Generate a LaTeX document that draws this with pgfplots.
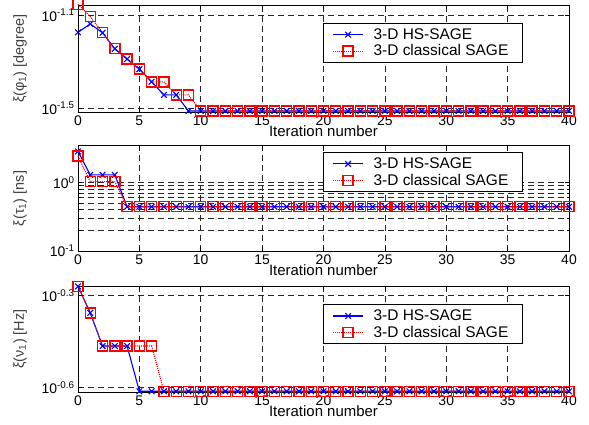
\documentclass[border=0pt]{standalone}
\usepackage{fontspec}
\setmainfont{Liberation Sans}
\usepackage{pgfplots}
\usepackage{pgfplotstable}
\pgfplotsset{compat=1.18}

% x, HS-SAGE, classical SAGE
\pgfplotstableread{
x hs cl
0 0.0671 0.0885
1 0.0729 0.0783
2 0.0668 0.0668
3 0.0570 0.0570
4 0.0515 0.0515
5 0.0466 0.0466
6 0.0411 0.0411
7 0.0361 0.0411
8 0.0361 0.0361
9 0.0308 0.0361
10 0.0308 0.0308
11 0.0308 0.0308
12 0.0308 0.0308
13 0.0308 0.0308
14 0.0308 0.0308
15 0.0308 0.0308
16 0.0308 0.0308
17 0.0308 0.0308
18 0.0308 0.0308
19 0.0308 0.0308
20 0.0308 0.0308
21 0.0308 0.0308
22 0.0308 0.0308
23 0.0308 0.0308
24 0.0308 0.0308
25 0.0308 0.0308
26 0.0308 0.0308
27 0.0308 0.0308
28 0.0308 0.0308
29 0.0308 0.0308
30 0.0308 0.0308
31 0.0308 0.0308
32 0.0308 0.0308
33 0.0308 0.0308
34 0.0308 0.0308
35 0.0308 0.0308
36 0.0308 0.0308
37 0.0308 0.0308
38 0.0308 0.0308
39 0.0308 0.0308
40 0.0308 0.0308
}\phidata

\pgfplotstableread{
x hs cl
0 2.81 2.40
1 1.28 1.02
2 1.28 1.02
3 1.28 1.02
4 0.44 0.44
5 0.44 0.44
6 0.44 0.44
7 0.44 0.44
8 0.44 0.44
9 0.44 0.44
10 0.44 0.44
11 0.44 0.44
12 0.44 0.44
13 0.44 0.44
14 0.44 0.44
15 0.44 0.44
16 0.44 0.44
17 0.44 0.44
18 0.44 0.44
19 0.44 0.44
20 0.44 0.44
21 0.44 0.44
22 0.44 0.44
23 0.44 0.44
24 0.44 0.44
25 0.44 0.44
26 0.44 0.44
27 0.44 0.44
28 0.44 0.44
29 0.44 0.44
30 0.44 0.44
31 0.44 0.44
32 0.44 0.44
33 0.44 0.44
34 0.44 0.44
35 0.44 0.44
36 0.44 0.44
37 0.44 0.44
38 0.44 0.44
39 0.44 0.44
40 0.44 0.44
}\taudata

\pgfplotstableread{
x hs cl
0 0.537 0.537
1 0.440 0.440
2 0.343 0.343
3 0.343 0.343
4 0.343 0.343
5 0.244 0.343
6 0.244 0.343
7 0.244 0.244
8 0.244 0.244
9 0.244 0.244
10 0.244 0.244
11 0.244 0.244
12 0.244 0.244
13 0.244 0.244
14 0.244 0.244
15 0.244 0.244
16 0.244 0.244
17 0.244 0.244
18 0.244 0.244
19 0.244 0.244
20 0.244 0.244
21 0.244 0.244
22 0.244 0.244
23 0.244 0.244
24 0.244 0.244
25 0.244 0.244
26 0.244 0.244
27 0.244 0.244
28 0.244 0.244
29 0.244 0.244
30 0.244 0.244
31 0.244 0.244
32 0.244 0.244
33 0.244 0.244
34 0.244 0.244
35 0.244 0.244
36 0.244 0.244
37 0.244 0.244
38 0.244 0.244
39 0.244 0.244
40 0.244 0.244
}\nudata

\pgfplotsset{
  every axis/.append style={
    scale only axis,
    width=491bp,
    xmin=0, xmax=40,
    xtick={0,5,...,40},
    clip=false,
    /pgf/number format/assume math mode=true,
    tick label style={font=\fontsize{14}{16}\selectfont},
    tick align=inside,
    major tick length=4bp,
    minor tick length=2.5bp,
    axis line style={line width=1bp},
    every tick/.style={black, line width=0.6bp},
    grid style={black!85, line width=0.6bp, dash pattern=on 6bp off 4bp},
    minor grid style={black!85, line width=0.6bp, dash pattern=on 6bp off 4bp},
    xmajorgrids, ymajorgrids,
    xlabel={Iteration number},
    xlabel style={at={(axis description cs:0.5,0)}, anchor=center, yshift=-19bp,
      font=\fontsize{15}{17}\selectfont},
    ylabel style={at={(axis description cs:-0.118,0.5)}, anchor=center,
      font=\fontsize{14.5}{16}\selectfont, text=black!75},
    legend cell align=left,
    legend style={anchor=north west, font=\fontsize{15.5}{17}\selectfont,
      draw=black, line width=1bp, inner xsep=9bp, inner ysep=3bp, row sep=0bp,
      column sep=5bp, nodes={inner xsep=5bp, inner ysep=2bp}},
  },
  hsline/.style={blue, line width=1.1bp, mark=x, mark size=4bp,
    mark options={solid, line width=1.1bp}},
  clline/.style={red, line width=1.1bp, densely dotted, mark=square, mark size=5bp,
    mark options={solid, line width=1.4bp}},
  legend image code/.code={%
    \draw[mark repeat=2, mark phase=2, #1] plot coordinates {(0bp,0bp) (15bp,0bp) (30bp,0bp)};},
}

\begin{document}
\begin{tikzpicture}
\path[use as bounding box] (0,0) rectangle (589bp,-425bp);

% top panel: phi
\begin{axis}[ymode=log,
  at={(78bp,-112bp)}, anchor=south west, height=107bp,
  ymin=0.03048, ymax=0.08792,
  ytick={0.0316228,0.0794328},
  yticklabels={10\textsuperscript{-1.5},10\textsuperscript{-1.1}},
  minor ytick={},
  ylabel={ξ(φ\textsubscript{1}) [degree]},
  legend style={at={(0.499,0.832)}},
]
\addplot[hsline] table[x=x, y=hs] {\phidata};
\addlegendentry{3-D HS-SAGE}
\addplot[clline] table[x=x, y=cl] {\phidata};
\addlegendentry{3-D classical SAGE}
\end{axis}

% middle panel: tau
\begin{axis}[ymode=log,
  at={(78bp,-251bp)}, anchor=south west, height=105bp,
  ymin=0.1, ymax=3.37,
  ytick={0.1,1},
  yticklabels={10\textsuperscript{-1},10\textsuperscript{0}},
  yminorgrids,
  ylabel={ξ(τ\textsubscript{1}) [ns]},
  legend style={at={(0.499,0.94)}},
]
\addplot[hsline] table[x=x, y=hs] {\taudata};
\addlegendentry{3-D HS-SAGE}
\addplot[clline] table[x=x, y=cl] {\taudata};
\addlegendentry{3-D classical SAGE}
\end{axis}

% bottom panel: nu
\begin{axis}[ymode=log,
  at={(78bp,-392bp)}, anchor=south west, height=106bp,
  ymin=0.2427, ymax=0.5388,
  ytick={0.2511886,0.5011872},
  yticklabels={10\textsuperscript{-0.6},10\textsuperscript{-0.3}},
  minor ytick={},
  ylabel={ξ(ν\textsubscript{1}) [Hz]},
  legend style={at={(0.499,0.827)}},
]
\addplot[hsline] table[x=x, y=hs] {\nudata};
\addlegendentry{3-D HS-SAGE}
\addplot[clline] table[x=x, y=cl] {\nudata};
\addlegendentry{3-D classical SAGE}
\end{axis}
\end{tikzpicture}
\end{document}
